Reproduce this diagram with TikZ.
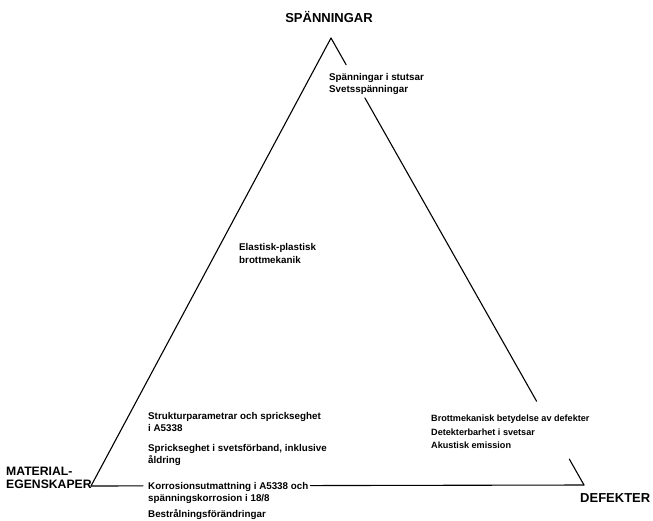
\documentclass[tikz,border=0pt]{standalone}
\usepackage{fontspec}
\setmainfont{Liberation Sans}
\usetikzlibrary{calc}
\begin{document}
\begin{tikzpicture}[x=1pt,y=-1pt,
  edge/.style={line width=1.1pt, line cap=round},
  small/.style={inner sep=0pt, anchor=base west, align=left,
    font=\bfseries\fontsize{9.8}{12}\selectfont},
  big/.style={inner sep=0pt, font=\bfseries\fontsize{13}{12.5}\selectfont}]
\useasboundingbox (0,0) rectangle (653,520);
% vertices
\coordinate (T) at (331,38);
\coordinate (L) at (91,486);
\coordinate (R) at (584,485);
% corner labels (base anchor = baseline of the last line)
\node[big] (spa) at (329,17) {SPÄNNINGAR};
\node[big, anchor=base west, align=left, font=\bfseries\fontsize{12.2}{12.5}\selectfont] (mat) at (6,488) {MATERIAL-\\EGENSKAPER};
\node[big, anchor=base west] (def) at (580,502) {DEFEKTER};
% texts
\node[small, font=\bfseries\fontsize{9.8}{11.5}\selectfont] (t1) at (329,92) {Spänningar i stutsar\\Svetsspänningar};
\node[small, font=\bfseries\fontsize{9.8}{13}\selectfont] (t2) at (239,263) {Elastisk-plastisk\\brottmekanik};
\node[small] (t3) at (148,431.5) {Strukturparametrar och sprickseghet\\i A5338};
\node[small] (t4) at (148,463.5) {Sprickseghet i svetsförband, inklusive\\åldring};
\node[small] (t5) at (148,501) {Korrosionsutmattning i A5338 och\\spänningskorrosion i 18/8};
\node[small] (t6) at (148,517) {Bestrålningsförändringar};
\node[small, font=\bfseries\fontsize{9.1}{13.5}\selectfont] (t7) at (431,448.5) {Brottmekanisk betydelse av defekter\\Detekterbarhet i svetsar\\Akustisk emission};
% triangle sides
\draw[edge] (T) -- (L);
\draw[edge] (T) -- ($(T)!0.060!(R)$);
\draw[edge] ($(T)!0.134!(R)$) -- ($(T)!0.8125!(R)$);
\draw[edge] ($(T)!0.942!(R)$) -- (R);
\draw[edge] (L) -- ($(L)!(t5.west)!(R)+(-5,0)$);
\draw[edge] ($(L)!(t5.east)!(R)+(2,0)$) -- (R);
\end{tikzpicture}
\end{document}
